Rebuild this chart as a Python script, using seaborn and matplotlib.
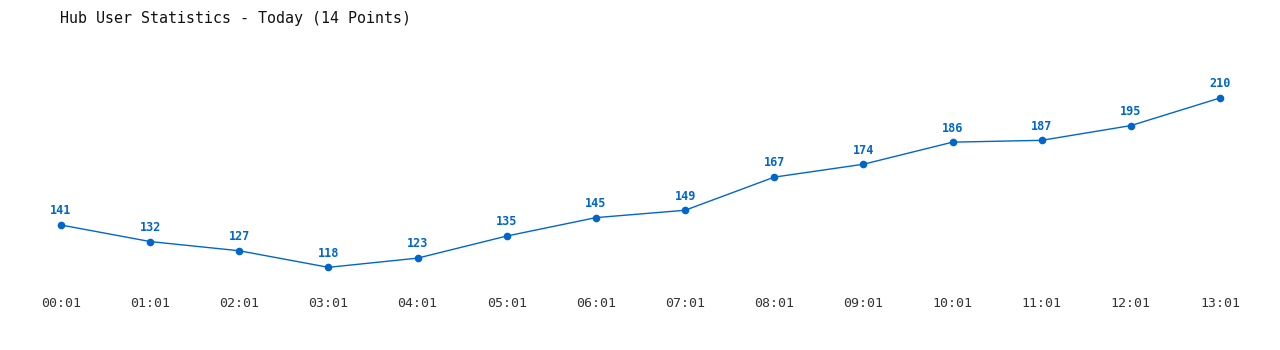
import matplotlib
matplotlib.use("Agg")
import matplotlib.pyplot as plt
import seaborn as sns
import pandas as pd

times = ["00:01", "01:01", "02:01", "03:01", "04:01", "05:01", "06:01",
         "07:01", "08:01", "09:01", "10:01", "11:01", "12:01", "13:01"]
users = [141, 132, 127, 118, 123, 135, 145, 149, 167, 174, 186, 187, 195, 210]
title = "Hub User Statistics - Today (14 Points)"

sns.set_theme(style="white")
plt.rcParams['font.family'] = ['DejaVu Sans Mono', 'DejaVu Sans']

color = "#0066cc"
df = pd.DataFrame({"idx": range(len(times)), "users": users})

fig = plt.figure(figsize=(12.8, 3.5), dpi=100)
ax = fig.add_axes([0, 65/350, 1, 245/350])
sns.lineplot(data=df, x="idx", y="users", ax=ax, color=color, linewidth=1,
             marker="o", markersize=5.5, markeredgewidth=0, markerfacecolor=color)

for i, v in enumerate(users):
    ax.annotate(str(v), (i, v), xytext=(0, 5.5), textcoords="offset points",
                ha="center", va="bottom", fontsize=8.5, fontweight="bold", color=color)

ax.set_xlim(-0.684, 13.673)
ax.set_ylim(108.4, 241.5)
ax.set_xticks(range(len(times)))
ax.set_xticklabels(times)
ax.set_yticks([])
ax.tick_params(axis="x", length=0, pad=8.5, labelsize=9.5, labelcolor="#333333")
ax.set_xlabel("")
ax.set_ylabel("")
for s in ax.spines.values():
    s.set_visible(False)

fig.text(60/1280, 1 - 18/350, title, ha="left", va="center", fontsize=10.8, color="#111111")

fig.savefig("out.png", dpi=100)
